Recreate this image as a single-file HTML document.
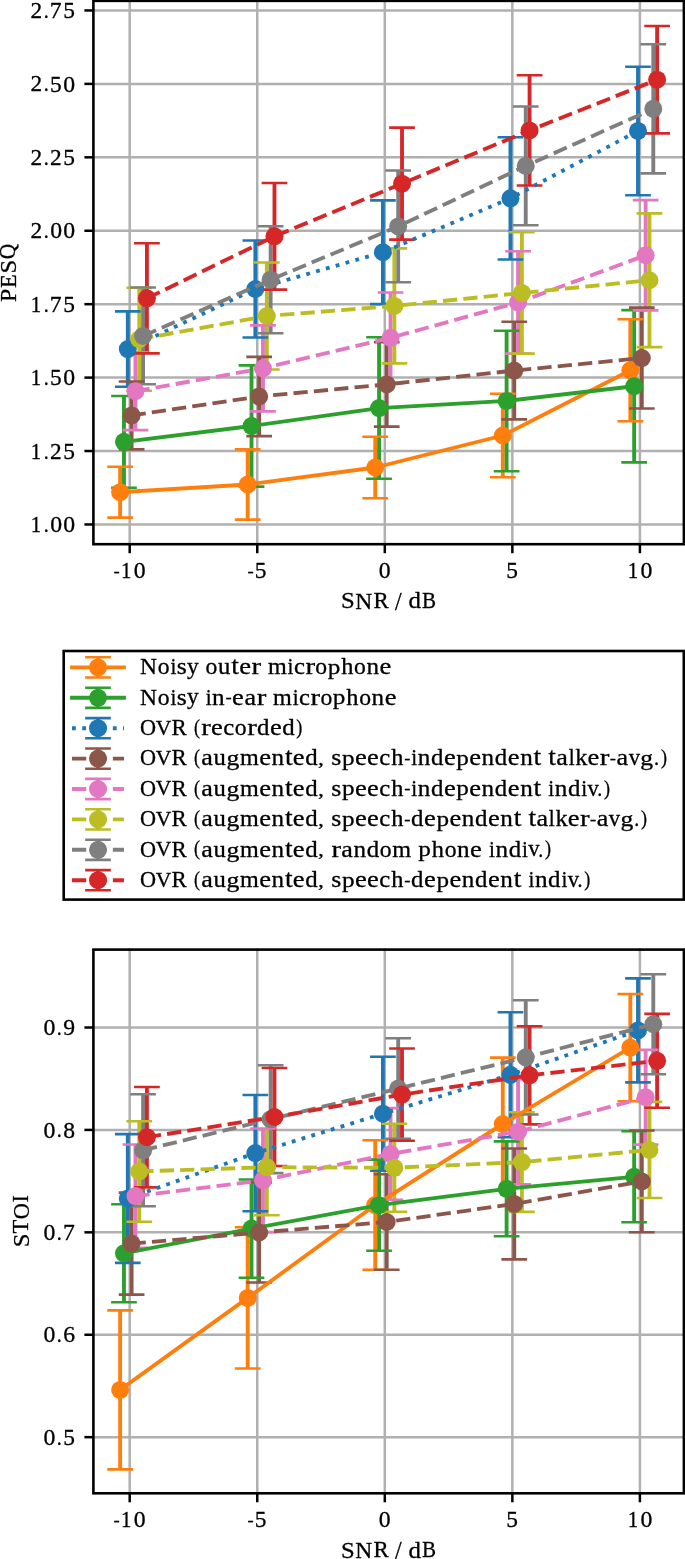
<!DOCTYPE html>
<html><head><meta charset="utf-8"><style>
html,body{margin:0;padding:0;background:#fff;}
body{width:685px;height:1559px;overflow:hidden;font-family:"Liberation Serif",serif;}
svg{display:block;will-change:transform;}
</style></head><body>
<svg width="685" height="1559" viewBox="0 0 685 1559">
<rect width="685" height="1559" fill="#fff"/>
<g stroke="#b0b0b0" stroke-width="2.5" stroke-linecap="square">
<line x1="129.7" y1="0.85" x2="129.7" y2="544.2"/>
<line x1="257.25" y1="0.85" x2="257.25" y2="544.2"/>
<line x1="384.8" y1="0.85" x2="384.8" y2="544.2"/>
<line x1="512.35" y1="0.85" x2="512.35" y2="544.2"/>
<line x1="639.9" y1="0.85" x2="639.9" y2="544.2"/>
<line x1="93.4" y1="524.45" x2="683.9" y2="524.45"/>
<line x1="93.4" y1="451.02" x2="683.9" y2="451.02"/>
<line x1="93.4" y1="377.6" x2="683.9" y2="377.6"/>
<line x1="93.4" y1="304.17" x2="683.9" y2="304.17"/>
<line x1="93.4" y1="230.74" x2="683.9" y2="230.74"/>
<line x1="93.4" y1="157.31" x2="683.9" y2="157.31"/>
<line x1="93.4" y1="83.89" x2="683.9" y2="83.89"/>
<line x1="93.4" y1="10.46" x2="683.9" y2="10.46"/>
</g>
<path d="M120.13 466.8V517.6M247.68 449.4V519.6M375.23 436.7V498.3M502.78 393.8V477.2M630.33 319.3V421.3" stroke="#ff7f0e" stroke-width="3.855" fill="none"/>
<path d="M123.96 396V487.7M251.51 365.4V486.6M379.06 337.3V478.8M506.61 330.7V471.2M634.16 310.1V462.4" stroke="#2ca02c" stroke-width="3.855" fill="none"/>
<path d="M127.79 311.4V386.8M255.34 240.5V337.5M382.89 200.4V304.1M510.44 137.2V259.5M637.99 66.7V195.2" stroke="#1f77b4" stroke-width="3.855" fill="none"/>
<path d="M131.61 381.5V449.4M259.16 356.9V436.1M386.71 342.2V426.6M514.26 321.8V419.4M641.81 307.6V408.5" stroke="#8c564b" stroke-width="3.855" fill="none"/>
<path d="M135.44 352.3V430.1M262.99 325.35V411.35M390.54 292.5V383.1M518.09 251.3V353.6M645.64 200.1V310.4" stroke="#e377c2" stroke-width="3.855" fill="none"/>
<path d="M139.27 287.7V390.7M266.82 262.5V369.5M394.37 248.4V363.4M521.92 232.3V353.6M649.47 213.4V347.1" stroke="#bcbd22" stroke-width="3.855" fill="none"/>
<path d="M143.09 287.5V384.3M270.64 226.2V333.2M398.19 170.5V282.3M525.74 106.5V225.3M653.29 44.2V173.4" stroke="#7f7f7f" stroke-width="3.855" fill="none"/>
<path d="M146.92 243.3V353.4M274.47 183V289.6M402.02 127.65V239.65M529.57 75.3V185.5M657.12 26V133.4" stroke="#d62728" stroke-width="3.855" fill="none"/>
<path d="M107.28 466.8H132.98M107.28 517.6H132.98M234.83 449.4H260.53M234.83 519.6H260.53M362.38 436.7H388.08M362.38 498.3H388.08M489.93 393.8H515.63M489.93 477.2H515.63M617.48 319.3H643.18M617.48 421.3H643.18" stroke="#ff7f0e" stroke-width="2.57" fill="none"/>
<path d="M111.11 396H136.81M111.11 487.7H136.81M238.66 365.4H264.36M238.66 486.6H264.36M366.21 337.3H391.91M366.21 478.8H391.91M493.76 330.7H519.46M493.76 471.2H519.46M621.31 310.1H647.01M621.31 462.4H647.01" stroke="#2ca02c" stroke-width="2.57" fill="none"/>
<path d="M114.94 311.4H140.64M114.94 386.8H140.64M242.49 240.5H268.19M242.49 337.5H268.19M370.04 200.4H395.74M370.04 304.1H395.74M497.59 137.2H523.29M497.59 259.5H523.29M625.14 66.7H650.84M625.14 195.2H650.84" stroke="#1f77b4" stroke-width="2.57" fill="none"/>
<path d="M118.76 381.5H144.46M118.76 449.4H144.46M246.31 356.9H272.01M246.31 436.1H272.01M373.86 342.2H399.56M373.86 426.6H399.56M501.41 321.8H527.11M501.41 419.4H527.11M628.96 307.6H654.66M628.96 408.5H654.66" stroke="#8c564b" stroke-width="2.57" fill="none"/>
<path d="M122.59 352.3H148.29M122.59 430.1H148.29M250.14 325.35H275.84M250.14 411.35H275.84M377.69 292.5H403.39M377.69 383.1H403.39M505.24 251.3H530.94M505.24 353.6H530.94M632.79 200.1H658.49M632.79 310.4H658.49" stroke="#e377c2" stroke-width="2.57" fill="none"/>
<path d="M126.42 287.7H152.12M126.42 390.7H152.12M253.97 262.5H279.67M253.97 369.5H279.67M381.52 248.4H407.22M381.52 363.4H407.22M509.07 232.3H534.77M509.07 353.6H534.77M636.62 213.4H662.32M636.62 347.1H662.32" stroke="#bcbd22" stroke-width="2.57" fill="none"/>
<path d="M130.24 287.5H155.94M130.24 384.3H155.94M257.79 226.2H283.49M257.79 333.2H283.49M385.34 170.5H411.04M385.34 282.3H411.04M512.89 106.5H538.59M512.89 225.3H538.59M640.44 44.2H666.14M640.44 173.4H666.14" stroke="#7f7f7f" stroke-width="2.57" fill="none"/>
<path d="M134.07 243.3H159.77M134.07 353.4H159.77M261.62 183H287.32M261.62 289.6H287.32M389.17 127.65H414.87M389.17 239.65H414.87M516.72 75.3H542.42M516.72 185.5H542.42M644.27 26H669.97M644.27 133.4H669.97" stroke="#d62728" stroke-width="2.57" fill="none"/>
<polyline points="120.13,492.2 247.68,484.5 375.23,467.5 502.78,435.5 630.33,370.3" fill="none" stroke="#ff7f0e" stroke-width="3.855" stroke-linejoin="round" stroke-linecap="square"/>
<g fill="#ff7f0e"><circle cx="120.13" cy="492.2" r="9.0"/><circle cx="247.68" cy="484.5" r="9.0"/><circle cx="375.23" cy="467.5" r="9.0"/><circle cx="502.78" cy="435.5" r="9.0"/><circle cx="630.33" cy="370.3" r="9.0"/></g>
<polyline points="123.96,441.85 251.51,426 379.06,408.05 506.61,400.95 634.16,386.25" fill="none" stroke="#2ca02c" stroke-width="3.855" stroke-linejoin="round" stroke-linecap="square"/>
<g fill="#2ca02c"><circle cx="123.96" cy="441.85" r="9.0"/><circle cx="251.51" cy="426" r="9.0"/><circle cx="379.06" cy="408.05" r="9.0"/><circle cx="506.61" cy="400.95" r="9.0"/><circle cx="634.16" cy="386.25" r="9.0"/></g>
<polyline points="127.79,349.1 255.34,289 382.89,252.25 510.44,198.35 637.99,130.95" fill="none" stroke="#1f77b4" stroke-width="3.855" stroke-linejoin="round" stroke-linecap="butt" stroke-dasharray="3.85 6.36"/>
<g fill="#1f77b4"><circle cx="127.79" cy="349.1" r="9.0"/><circle cx="255.34" cy="289" r="9.0"/><circle cx="382.89" cy="252.25" r="9.0"/><circle cx="510.44" cy="198.35" r="9.0"/><circle cx="637.99" cy="130.95" r="9.0"/></g>
<polyline points="131.61,415.45 259.16,396.5 386.71,384.4 514.26,370.6 641.81,358.05" fill="none" stroke="#8c564b" stroke-width="3.855" stroke-linejoin="round" stroke-linecap="butt" stroke-dasharray="14.26 6.17"/>
<g fill="#8c564b"><circle cx="131.61" cy="415.45" r="9.0"/><circle cx="259.16" cy="396.5" r="9.0"/><circle cx="386.71" cy="384.4" r="9.0"/><circle cx="514.26" cy="370.6" r="9.0"/><circle cx="641.81" cy="358.05" r="9.0"/></g>
<polyline points="135.44,391.2 262.99,368.35 390.54,337.8 518.09,302.45 645.64,255.25" fill="none" stroke="#e377c2" stroke-width="3.855" stroke-linejoin="round" stroke-linecap="butt" stroke-dasharray="14.26 6.17"/>
<g fill="#e377c2"><circle cx="135.44" cy="391.2" r="9.0"/><circle cx="262.99" cy="368.35" r="9.0"/><circle cx="390.54" cy="337.8" r="9.0"/><circle cx="518.09" cy="302.45" r="9.0"/><circle cx="645.64" cy="255.25" r="9.0"/></g>
<polyline points="139.27,339.2 266.82,316 394.37,305.9 521.92,292.95 649.47,280.25" fill="none" stroke="#bcbd22" stroke-width="3.855" stroke-linejoin="round" stroke-linecap="butt" stroke-dasharray="14.26 6.17"/>
<g fill="#bcbd22"><circle cx="139.27" cy="339.2" r="9.0"/><circle cx="266.82" cy="316" r="9.0"/><circle cx="394.37" cy="305.9" r="9.0"/><circle cx="521.92" cy="292.95" r="9.0"/><circle cx="649.47" cy="280.25" r="9.0"/></g>
<polyline points="143.09,335.9 270.64,279.7 398.19,226.4 525.74,165.9 653.29,108.8" fill="none" stroke="#7f7f7f" stroke-width="3.855" stroke-linejoin="round" stroke-linecap="butt" stroke-dasharray="14.26 6.17"/>
<g fill="#7f7f7f"><circle cx="143.09" cy="335.9" r="9.0"/><circle cx="270.64" cy="279.7" r="9.0"/><circle cx="398.19" cy="226.4" r="9.0"/><circle cx="525.74" cy="165.9" r="9.0"/><circle cx="653.29" cy="108.8" r="9.0"/></g>
<polyline points="146.92,298.35 274.47,236.3 402.02,183.65 529.57,130.4 657.12,79.7" fill="none" stroke="#d62728" stroke-width="3.855" stroke-linejoin="round" stroke-linecap="butt" stroke-dasharray="14.26 6.17"/>
<g fill="#d62728"><circle cx="146.92" cy="298.35" r="9.0"/><circle cx="274.47" cy="236.3" r="9.0"/><circle cx="402.02" cy="183.65" r="9.0"/><circle cx="529.57" cy="130.4" r="9.0"/><circle cx="657.12" cy="79.7" r="9.0"/></g>
<rect x="93.4" y="0.85" width="590.5" height="543.35" fill="none" stroke="#000" stroke-width="2.6"/>
<g stroke="#000" stroke-width="2.5">
<line x1="129.7" y1="544.2" x2="129.7" y2="553.2"/>
<line x1="257.25" y1="544.2" x2="257.25" y2="553.2"/>
<line x1="384.8" y1="544.2" x2="384.8" y2="553.2"/>
<line x1="512.35" y1="544.2" x2="512.35" y2="553.2"/>
<line x1="639.9" y1="544.2" x2="639.9" y2="553.2"/>
<line x1="84.41" y1="524.45" x2="93.4" y2="524.45"/>
<line x1="84.41" y1="451.02" x2="93.4" y2="451.02"/>
<line x1="84.41" y1="377.6" x2="93.4" y2="377.6"/>
<line x1="84.41" y1="304.17" x2="93.4" y2="304.17"/>
<line x1="84.41" y1="230.74" x2="93.4" y2="230.74"/>
<line x1="84.41" y1="157.31" x2="93.4" y2="157.31"/>
<line x1="84.41" y1="83.89" x2="93.4" y2="83.89"/>
<line x1="84.41" y1="10.46" x2="93.4" y2="10.46"/>
</g>
<g font-family="Liberation Serif, serif" font-size="100" stroke="#000" stroke-linejoin="round" fill="#000">
<text transform="matrix(0.1862 0 0 0.1694 113.52 576.68)" stroke-width="1.69">-</text><text transform="matrix(0.2087 0 0 0.2265 120.92 578.05)" stroke-width="1.38">1</text><text transform="matrix(0.2372 0 0 0.2259 133.77 578.12)" stroke-width="1.30">0</text>
<text transform="matrix(0.1862 0 0 0.1694 247.60 576.68)" stroke-width="1.69">-</text><text transform="matrix(0.2344 0 0 0.2253 254.72 578.12)" stroke-width="1.31">5</text>
<text transform="matrix(0.2372 0 0 0.2259 378.86 578.12)" stroke-width="1.30">0</text>
<text transform="matrix(0.2344 0 0 0.2253 506.35 578.12)" stroke-width="1.31">5</text>
<text transform="matrix(0.2087 0 0 0.2265 627.65 578.05)" stroke-width="1.38">1</text><text transform="matrix(0.2372 0 0 0.2259 640.50 578.12)" stroke-width="1.30">0</text>
<text transform="matrix(0.2087 0 0 0.2265 30.77 532.00)" stroke-width="1.38">1</text><text transform="matrix(0.2005 0 0 0.2013 43.78 532.01)" stroke-width="1.49">.</text><text transform="matrix(0.2372 0 0 0.2259 50.15 532.07)" stroke-width="1.30">0</text><text transform="matrix(0.2372 0 0 0.2259 63.23 532.07)" stroke-width="1.30">0</text>
<text transform="matrix(0.2087 0 0 0.2265 30.77 458.57)" stroke-width="1.38">1</text><text transform="matrix(0.2005 0 0 0.2013 43.78 458.58)" stroke-width="1.49">.</text><text transform="matrix(0.2336 0 0 0.2258 50.07 458.57)" stroke-width="1.31">2</text><text transform="matrix(0.2344 0 0 0.2253 63.16 458.64)" stroke-width="1.31">5</text>
<text transform="matrix(0.2087 0 0 0.2265 30.77 385.15)" stroke-width="1.38">1</text><text transform="matrix(0.2005 0 0 0.2013 43.78 385.15)" stroke-width="1.49">.</text><text transform="matrix(0.2344 0 0 0.2253 50.08 385.22)" stroke-width="1.31">5</text><text transform="matrix(0.2372 0 0 0.2259 63.23 385.22)" stroke-width="1.30">0</text>
<text transform="matrix(0.2087 0 0 0.2265 30.77 311.72)" stroke-width="1.38">1</text><text transform="matrix(0.2005 0 0 0.2013 43.78 311.72)" stroke-width="1.49">.</text><text transform="matrix(0.2360 0 0 0.2242 49.87 311.72)" stroke-width="1.30">7</text><text transform="matrix(0.2344 0 0 0.2253 63.16 311.79)" stroke-width="1.31">5</text>
<text transform="matrix(0.2336 0 0 0.2258 30.46 238.29)" stroke-width="1.31">2</text><text transform="matrix(0.2005 0 0 0.2013 43.78 238.30)" stroke-width="1.49">.</text><text transform="matrix(0.2372 0 0 0.2259 50.15 238.36)" stroke-width="1.30">0</text><text transform="matrix(0.2372 0 0 0.2259 63.23 238.36)" stroke-width="1.30">0</text>
<text transform="matrix(0.2336 0 0 0.2258 30.46 164.86)" stroke-width="1.31">2</text><text transform="matrix(0.2005 0 0 0.2013 43.78 164.87)" stroke-width="1.49">.</text><text transform="matrix(0.2336 0 0 0.2258 50.07 164.86)" stroke-width="1.31">2</text><text transform="matrix(0.2344 0 0 0.2253 63.16 164.93)" stroke-width="1.31">5</text>
<text transform="matrix(0.2336 0 0 0.2258 30.46 91.44)" stroke-width="1.31">2</text><text transform="matrix(0.2005 0 0 0.2013 43.78 91.44)" stroke-width="1.49">.</text><text transform="matrix(0.2344 0 0 0.2253 50.08 91.51)" stroke-width="1.31">5</text><text transform="matrix(0.2372 0 0 0.2259 63.23 91.51)" stroke-width="1.30">0</text>
<text transform="matrix(0.2336 0 0 0.2258 30.46 18.01)" stroke-width="1.31">2</text><text transform="matrix(0.2005 0 0 0.2013 43.78 18.01)" stroke-width="1.49">.</text><text transform="matrix(0.2360 0 0 0.2242 49.87 18.01)" stroke-width="1.30">7</text><text transform="matrix(0.2344 0 0 0.2253 63.16 18.08)" stroke-width="1.31">5</text>
<text transform="matrix(0.2469 0 0 0.2269 340.99 608.42)" stroke-width="1.27">S</text><text transform="matrix(0.2353 0 0 0.2287 355.32 608.64)" stroke-width="1.29">N</text><text transform="matrix(0.2282 0 0 0.2242 373.45 608.35)" stroke-width="1.33">R</text><text transform="matrix(0.2384 0 0 0.2480 394.98 610.01)" stroke-width="1.23">/</text><text transform="matrix(0.2486 0 0 0.2218 408.56 608.42)" stroke-width="1.28">d</text><text transform="matrix(0.2106 0 0 0.2232 422.11 608.28)" stroke-width="1.38">B</text>
<g transform="translate(15.65 272.7) rotate(-90)"><text transform="matrix(0.2393 0 0 0.2242 -29.28 -0.15)" stroke-width="1.29">P</text><text transform="matrix(0.2240 0 0 0.2242 -15.41 -0.15)" stroke-width="1.34">E</text><text transform="matrix(0.2469 0 0 0.2269 -0.82 -0.08)" stroke-width="1.27">S</text><text transform="matrix(0.2146 0 0 0.2213 13.45 -0.45)" stroke-width="1.38">Q</text></g>
</g>
<g stroke="#b0b0b0" stroke-width="2.5" stroke-linecap="square">
<line x1="129.7" y1="949.6" x2="129.7" y2="1493.3"/>
<line x1="257.25" y1="949.6" x2="257.25" y2="1493.3"/>
<line x1="384.8" y1="949.6" x2="384.8" y2="1493.3"/>
<line x1="512.35" y1="949.6" x2="512.35" y2="1493.3"/>
<line x1="639.9" y1="949.6" x2="639.9" y2="1493.3"/>
<line x1="93.4" y1="1437.15" x2="683.9" y2="1437.15"/>
<line x1="93.4" y1="1334.74" x2="683.9" y2="1334.74"/>
<line x1="93.4" y1="1232.33" x2="683.9" y2="1232.33"/>
<line x1="93.4" y1="1129.92" x2="683.9" y2="1129.92"/>
<line x1="93.4" y1="1027.51" x2="683.9" y2="1027.51"/>
</g>
<path d="M120.13 1310.4V1469.4M247.68 1227.3V1368.5M375.23 1140.3V1269.8M502.78 1057.6V1190.4M630.33 994V1101.2" stroke="#ff7f0e" stroke-width="3.855" fill="none"/>
<path d="M123.96 1204.3V1302.3M251.51 1179.5V1277.7M379.06 1159.6V1250.8M506.61 1141.4V1236.2M634.16 1131.3V1222.2" stroke="#2ca02c" stroke-width="3.855" fill="none"/>
<path d="M127.79 1134.1V1262.9M255.34 1095V1211.2M382.89 1056.7V1170.8M510.44 1012.3V1137.3M637.99 978.4V1082.4" stroke="#1f77b4" stroke-width="3.855" fill="none"/>
<path d="M131.61 1192.6V1294.6M259.16 1182.5V1282.5M386.71 1174.2V1269.8M514.26 1148.5V1259.4M641.81 1130.5V1232.3" stroke="#8c564b" stroke-width="3.855" fill="none"/>
<path d="M135.44 1144.5V1247.7M262.99 1128.5V1232.1M390.54 1108.1V1199.7M518.09 1079.1V1184.3M645.64 1049.9V1144.6" stroke="#e377c2" stroke-width="3.855" fill="none"/>
<path d="M139.27 1121.2V1221.7M266.82 1119.2V1215.2M394.37 1123.8V1211.7M521.92 1112.3V1211.9M649.47 1101.9V1198" stroke="#bcbd22" stroke-width="3.855" fill="none"/>
<path d="M143.09 1094.3V1206.3M270.64 1065.2V1173.1M398.19 1038.3V1138.8M525.74 1000.2V1114.5M653.29 974.3V1074.2" stroke="#7f7f7f" stroke-width="3.855" fill="none"/>
<path d="M146.92 1087V1187.4M274.47 1068V1166M402.02 1048.5V1140.7M529.57 1026.3V1124.4M657.12 1013.9V1107.8" stroke="#d62728" stroke-width="3.855" fill="none"/>
<path d="M107.28 1310.4H132.98M107.28 1469.4H132.98M234.83 1227.3H260.53M234.83 1368.5H260.53M362.38 1140.3H388.08M362.38 1269.8H388.08M489.93 1057.6H515.63M489.93 1190.4H515.63M617.48 994H643.18M617.48 1101.2H643.18" stroke="#ff7f0e" stroke-width="2.57" fill="none"/>
<path d="M111.11 1204.3H136.81M111.11 1302.3H136.81M238.66 1179.5H264.36M238.66 1277.7H264.36M366.21 1159.6H391.91M366.21 1250.8H391.91M493.76 1141.4H519.46M493.76 1236.2H519.46M621.31 1131.3H647.01M621.31 1222.2H647.01" stroke="#2ca02c" stroke-width="2.57" fill="none"/>
<path d="M114.94 1134.1H140.64M114.94 1262.9H140.64M242.49 1095H268.19M242.49 1211.2H268.19M370.04 1056.7H395.74M370.04 1170.8H395.74M497.59 1012.3H523.29M497.59 1137.3H523.29M625.14 978.4H650.84M625.14 1082.4H650.84" stroke="#1f77b4" stroke-width="2.57" fill="none"/>
<path d="M118.76 1192.6H144.46M118.76 1294.6H144.46M246.31 1182.5H272.01M246.31 1282.5H272.01M373.86 1174.2H399.56M373.86 1269.8H399.56M501.41 1148.5H527.11M501.41 1259.4H527.11M628.96 1130.5H654.66M628.96 1232.3H654.66" stroke="#8c564b" stroke-width="2.57" fill="none"/>
<path d="M122.59 1144.5H148.29M122.59 1247.7H148.29M250.14 1128.5H275.84M250.14 1232.1H275.84M377.69 1108.1H403.39M377.69 1199.7H403.39M505.24 1079.1H530.94M505.24 1184.3H530.94M632.79 1049.9H658.49M632.79 1144.6H658.49" stroke="#e377c2" stroke-width="2.57" fill="none"/>
<path d="M126.42 1121.2H152.12M126.42 1221.7H152.12M253.97 1119.2H279.67M253.97 1215.2H279.67M381.52 1123.8H407.22M381.52 1211.7H407.22M509.07 1112.3H534.77M509.07 1211.9H534.77M636.62 1101.9H662.32M636.62 1198H662.32" stroke="#bcbd22" stroke-width="2.57" fill="none"/>
<path d="M130.24 1094.3H155.94M130.24 1206.3H155.94M257.79 1065.2H283.49M257.79 1173.1H283.49M385.34 1038.3H411.04M385.34 1138.8H411.04M512.89 1000.2H538.59M512.89 1114.5H538.59M640.44 974.3H666.14M640.44 1074.2H666.14" stroke="#7f7f7f" stroke-width="2.57" fill="none"/>
<path d="M134.07 1087H159.77M134.07 1187.4H159.77M261.62 1068H287.32M261.62 1166H287.32M389.17 1048.5H414.87M389.17 1140.7H414.87M516.72 1026.3H542.42M516.72 1124.4H542.42M644.27 1013.9H669.97M644.27 1107.8H669.97" stroke="#d62728" stroke-width="2.57" fill="none"/>
<polyline points="120.13,1389.9 247.68,1297.9 375.23,1205.05 502.78,1124 630.33,1047.6" fill="none" stroke="#ff7f0e" stroke-width="3.855" stroke-linejoin="round" stroke-linecap="square"/>
<g fill="#ff7f0e"><circle cx="120.13" cy="1389.9" r="9.0"/><circle cx="247.68" cy="1297.9" r="9.0"/><circle cx="375.23" cy="1205.05" r="9.0"/><circle cx="502.78" cy="1124" r="9.0"/><circle cx="630.33" cy="1047.6" r="9.0"/></g>
<polyline points="123.96,1253.3 251.51,1228.6 379.06,1205.2 506.61,1188.8 634.16,1176.75" fill="none" stroke="#2ca02c" stroke-width="3.855" stroke-linejoin="round" stroke-linecap="square"/>
<g fill="#2ca02c"><circle cx="123.96" cy="1253.3" r="9.0"/><circle cx="251.51" cy="1228.6" r="9.0"/><circle cx="379.06" cy="1205.2" r="9.0"/><circle cx="506.61" cy="1188.8" r="9.0"/><circle cx="634.16" cy="1176.75" r="9.0"/></g>
<polyline points="127.79,1198.5 255.34,1153.1 382.89,1113.75 510.44,1074.8 637.99,1030.4" fill="none" stroke="#1f77b4" stroke-width="3.855" stroke-linejoin="round" stroke-linecap="butt" stroke-dasharray="3.85 6.36"/>
<g fill="#1f77b4"><circle cx="127.79" cy="1198.5" r="9.0"/><circle cx="255.34" cy="1153.1" r="9.0"/><circle cx="382.89" cy="1113.75" r="9.0"/><circle cx="510.44" cy="1074.8" r="9.0"/><circle cx="637.99" cy="1030.4" r="9.0"/></g>
<polyline points="131.61,1243.6 259.16,1232.5 386.71,1222 514.26,1203.95 641.81,1181.4" fill="none" stroke="#8c564b" stroke-width="3.855" stroke-linejoin="round" stroke-linecap="butt" stroke-dasharray="14.26 6.17"/>
<g fill="#8c564b"><circle cx="131.61" cy="1243.6" r="9.0"/><circle cx="259.16" cy="1232.5" r="9.0"/><circle cx="386.71" cy="1222" r="9.0"/><circle cx="514.26" cy="1203.95" r="9.0"/><circle cx="641.81" cy="1181.4" r="9.0"/></g>
<polyline points="135.44,1196.1 262.99,1180.3 390.54,1153.9 518.09,1131.7 645.64,1097.25" fill="none" stroke="#e377c2" stroke-width="3.855" stroke-linejoin="round" stroke-linecap="butt" stroke-dasharray="14.26 6.17"/>
<g fill="#e377c2"><circle cx="135.44" cy="1196.1" r="9.0"/><circle cx="262.99" cy="1180.3" r="9.0"/><circle cx="390.54" cy="1153.9" r="9.0"/><circle cx="518.09" cy="1131.7" r="9.0"/><circle cx="645.64" cy="1097.25" r="9.0"/></g>
<polyline points="139.27,1171.45 266.82,1167.2 394.37,1167.75 521.92,1162.1 649.47,1149.95" fill="none" stroke="#bcbd22" stroke-width="3.855" stroke-linejoin="round" stroke-linecap="butt" stroke-dasharray="14.26 6.17"/>
<g fill="#bcbd22"><circle cx="139.27" cy="1171.45" r="9.0"/><circle cx="266.82" cy="1167.2" r="9.0"/><circle cx="394.37" cy="1167.75" r="9.0"/><circle cx="521.92" cy="1162.1" r="9.0"/><circle cx="649.47" cy="1149.95" r="9.0"/></g>
<polyline points="143.09,1150.3 270.64,1119.15 398.19,1088.55 525.74,1057.35 653.29,1024.25" fill="none" stroke="#7f7f7f" stroke-width="3.855" stroke-linejoin="round" stroke-linecap="butt" stroke-dasharray="14.26 6.17"/>
<g fill="#7f7f7f"><circle cx="143.09" cy="1150.3" r="9.0"/><circle cx="270.64" cy="1119.15" r="9.0"/><circle cx="398.19" cy="1088.55" r="9.0"/><circle cx="525.74" cy="1057.35" r="9.0"/><circle cx="653.29" cy="1024.25" r="9.0"/></g>
<polyline points="146.92,1137.2 274.47,1117 402.02,1094.6 529.57,1075.35 657.12,1060.85" fill="none" stroke="#d62728" stroke-width="3.855" stroke-linejoin="round" stroke-linecap="butt" stroke-dasharray="14.26 6.17"/>
<g fill="#d62728"><circle cx="146.92" cy="1137.2" r="9.0"/><circle cx="274.47" cy="1117" r="9.0"/><circle cx="402.02" cy="1094.6" r="9.0"/><circle cx="529.57" cy="1075.35" r="9.0"/><circle cx="657.12" cy="1060.85" r="9.0"/></g>
<rect x="93.4" y="949.6" width="590.5" height="543.7" fill="none" stroke="#000" stroke-width="2.6"/>
<g stroke="#000" stroke-width="2.5">
<line x1="129.7" y1="1493.3" x2="129.7" y2="1502.29"/>
<line x1="257.25" y1="1493.3" x2="257.25" y2="1502.29"/>
<line x1="384.8" y1="1493.3" x2="384.8" y2="1502.29"/>
<line x1="512.35" y1="1493.3" x2="512.35" y2="1502.29"/>
<line x1="639.9" y1="1493.3" x2="639.9" y2="1502.29"/>
<line x1="84.41" y1="1437.15" x2="93.4" y2="1437.15"/>
<line x1="84.41" y1="1334.74" x2="93.4" y2="1334.74"/>
<line x1="84.41" y1="1232.33" x2="93.4" y2="1232.33"/>
<line x1="84.41" y1="1129.92" x2="93.4" y2="1129.92"/>
<line x1="84.41" y1="1027.51" x2="93.4" y2="1027.51"/>
</g>
<g font-family="Liberation Serif, serif" font-size="100" stroke="#000" stroke-linejoin="round" fill="#000">
<text transform="matrix(0.1862 0 0 0.1694 113.52 1525.78)" stroke-width="1.69">-</text><text transform="matrix(0.2087 0 0 0.2265 120.92 1527.15)" stroke-width="1.38">1</text><text transform="matrix(0.2372 0 0 0.2259 133.77 1527.22)" stroke-width="1.30">0</text>
<text transform="matrix(0.1862 0 0 0.1694 247.60 1525.78)" stroke-width="1.69">-</text><text transform="matrix(0.2344 0 0 0.2253 254.72 1527.22)" stroke-width="1.31">5</text>
<text transform="matrix(0.2372 0 0 0.2259 378.86 1527.22)" stroke-width="1.30">0</text>
<text transform="matrix(0.2344 0 0 0.2253 506.35 1527.22)" stroke-width="1.31">5</text>
<text transform="matrix(0.2087 0 0 0.2265 627.65 1527.15)" stroke-width="1.38">1</text><text transform="matrix(0.2372 0 0 0.2259 640.50 1527.22)" stroke-width="1.30">0</text>
<text transform="matrix(0.2372 0 0 0.2259 43.62 1444.77)" stroke-width="1.30">0</text><text transform="matrix(0.2005 0 0 0.2013 56.86 1444.71)" stroke-width="1.49">.</text><text transform="matrix(0.2344 0 0 0.2253 63.16 1444.77)" stroke-width="1.31">5</text>
<text transform="matrix(0.2372 0 0 0.2259 43.62 1342.36)" stroke-width="1.30">0</text><text transform="matrix(0.2005 0 0 0.2013 56.86 1342.30)" stroke-width="1.49">.</text><text transform="matrix(0.2365 0 0 0.2269 63.13 1342.36)" stroke-width="1.29">6</text>
<text transform="matrix(0.2372 0 0 0.2259 43.62 1239.95)" stroke-width="1.30">0</text><text transform="matrix(0.2005 0 0 0.2013 56.86 1239.89)" stroke-width="1.49">.</text><text transform="matrix(0.2360 0 0 0.2242 62.95 1239.88)" stroke-width="1.30">7</text>
<text transform="matrix(0.2372 0 0 0.2259 43.62 1137.54)" stroke-width="1.30">0</text><text transform="matrix(0.2005 0 0 0.2013 56.86 1137.48)" stroke-width="1.49">.</text><text transform="matrix(0.2363 0 0 0.2259 63.25 1137.54)" stroke-width="1.30">8</text>
<text transform="matrix(0.2372 0 0 0.2259 43.62 1035.13)" stroke-width="1.30">0</text><text transform="matrix(0.2005 0 0 0.2013 56.86 1035.07)" stroke-width="1.49">.</text><text transform="matrix(0.2366 0 0 0.2269 63.31 1035.13)" stroke-width="1.29">9</text>
<text transform="matrix(0.2469 0 0 0.2269 340.99 1557.52)" stroke-width="1.27">S</text><text transform="matrix(0.2353 0 0 0.2287 355.32 1557.74)" stroke-width="1.29">N</text><text transform="matrix(0.2282 0 0 0.2242 373.45 1557.45)" stroke-width="1.33">R</text><text transform="matrix(0.2384 0 0 0.2480 394.98 1559.11)" stroke-width="1.23">/</text><text transform="matrix(0.2486 0 0 0.2218 408.56 1557.52)" stroke-width="1.28">d</text><text transform="matrix(0.2106 0 0 0.2232 422.11 1557.38)" stroke-width="1.38">B</text>
<g transform="translate(28.6 1221.05) rotate(-90)"><text transform="matrix(0.2469 0 0 0.2269 -26.15 -0.08)" stroke-width="1.27">S</text><text transform="matrix(0.2257 0 0 0.2242 -12.35 -0.15)" stroke-width="1.33">T</text><text transform="matrix(0.2226 0 0 0.2269 1.80 -0.08)" stroke-width="1.33">O</text><text transform="matrix(0.2121 0 0 0.2242 18.77 -0.15)" stroke-width="1.38">I</text></g>
</g>
<rect x="63.7" y="651" width="620.1" height="248.6" fill="#fff" stroke="#000" stroke-width="2.6"/>
<path d="M98 657.3V677.5" stroke="#ff7f0e" stroke-width="3.855"/>
<path d="M85.15 657.3H110.85M85.15 677.5H110.85" stroke="#ff7f0e" stroke-width="2.57"/>
<line x1="72" y1="667.4" x2="124" y2="667.4" stroke="#ff7f0e" stroke-width="3.855" stroke-linecap="square"/>
<circle cx="98" cy="667.4" r="9.0" fill="#ff7f0e"/>
<path d="M98 687.7V707.9" stroke="#2ca02c" stroke-width="3.855"/>
<path d="M85.15 687.7H110.85M85.15 707.9H110.85" stroke="#2ca02c" stroke-width="2.57"/>
<line x1="72" y1="697.8" x2="124" y2="697.8" stroke="#2ca02c" stroke-width="3.855" stroke-linecap="square"/>
<circle cx="98" cy="697.8" r="9.0" fill="#2ca02c"/>
<path d="M98 718.1V738.3" stroke="#1f77b4" stroke-width="3.855"/>
<path d="M85.15 718.1H110.85M85.15 738.3H110.85" stroke="#1f77b4" stroke-width="2.57"/>
<line x1="72" y1="728.2" x2="124" y2="728.2" stroke="#1f77b4" stroke-width="3.855" stroke-linecap="butt" stroke-dasharray="3.85 6.36"/>
<circle cx="98" cy="728.2" r="9.0" fill="#1f77b4"/>
<path d="M98 748.5V768.7" stroke="#8c564b" stroke-width="3.855"/>
<path d="M85.15 748.5H110.85M85.15 768.7H110.85" stroke="#8c564b" stroke-width="2.57"/>
<line x1="72" y1="758.6" x2="124" y2="758.6" stroke="#8c564b" stroke-width="3.855" stroke-linecap="butt" stroke-dasharray="14.26 6.17"/>
<circle cx="98" cy="758.6" r="9.0" fill="#8c564b"/>
<path d="M98 778.9V799.1" stroke="#e377c2" stroke-width="3.855"/>
<path d="M85.15 778.9H110.85M85.15 799.1H110.85" stroke="#e377c2" stroke-width="2.57"/>
<line x1="72" y1="789" x2="124" y2="789" stroke="#e377c2" stroke-width="3.855" stroke-linecap="butt" stroke-dasharray="14.26 6.17"/>
<circle cx="98" cy="789" r="9.0" fill="#e377c2"/>
<path d="M98 809.3V829.5" stroke="#bcbd22" stroke-width="3.855"/>
<path d="M85.15 809.3H110.85M85.15 829.5H110.85" stroke="#bcbd22" stroke-width="2.57"/>
<line x1="72" y1="819.4" x2="124" y2="819.4" stroke="#bcbd22" stroke-width="3.855" stroke-linecap="butt" stroke-dasharray="14.26 6.17"/>
<circle cx="98" cy="819.4" r="9.0" fill="#bcbd22"/>
<path d="M98 839.7V859.9" stroke="#7f7f7f" stroke-width="3.855"/>
<path d="M85.15 839.7H110.85M85.15 859.9H110.85" stroke="#7f7f7f" stroke-width="2.57"/>
<line x1="72" y1="849.8" x2="124" y2="849.8" stroke="#7f7f7f" stroke-width="3.855" stroke-linecap="butt" stroke-dasharray="14.26 6.17"/>
<circle cx="98" cy="849.8" r="9.0" fill="#7f7f7f"/>
<path d="M98 870.1V890.3" stroke="#d62728" stroke-width="3.855"/>
<path d="M85.15 870.1H110.85M85.15 890.3H110.85" stroke="#d62728" stroke-width="2.57"/>
<line x1="72" y1="880.2" x2="124" y2="880.2" stroke="#d62728" stroke-width="3.855" stroke-linecap="butt" stroke-dasharray="14.26 6.17"/>
<circle cx="98" cy="880.2" r="9.0" fill="#d62728"/>
<g font-family="Liberation Serif, serif" font-size="100" stroke="#000" stroke-linejoin="round" fill="#000">
<text transform="matrix(0.2353 0 0 0.2287 140.08 674.44)" stroke-width="1.29">N</text><text transform="matrix(0.2363 0 0 0.2276 157.85 674.22)" stroke-width="1.29">o</text><text transform="matrix(0.2127 0 0 0.2239 170.40 674.15)" stroke-width="1.37">i</text><text transform="matrix(0.2576 0 0 0.2276 176.77 674.22)" stroke-width="1.24">s</text><text transform="matrix(0.2337 0 0 0.2213 186.88 673.94)" stroke-width="1.32">y</text><text transform="matrix(0.2363 0 0 0.2276 205.49 674.22)" stroke-width="1.29">o</text><text transform="matrix(0.2474 0 0 0.2274 217.96 674.22)" stroke-width="1.26">u</text><text transform="matrix(0.2748 0 0 0.2439 231.29 674.20)" stroke-width="1.16">t</text><text transform="matrix(0.2652 0 0 0.2276 239.22 674.22)" stroke-width="1.22">e</text><text transform="matrix(0.2887 0 0 0.2262 251.55 674.15)" stroke-width="1.17">r</text><text transform="matrix(0.2413 0 0 0.2262 267.98 674.15)" stroke-width="1.28">m</text><text transform="matrix(0.2127 0 0 0.2239 287.53 674.15)" stroke-width="1.37">i</text><text transform="matrix(0.2465 0 0 0.2276 293.89 674.22)" stroke-width="1.27">c</text><text transform="matrix(0.2887 0 0 0.2262 305.48 674.15)" stroke-width="1.17">r</text><text transform="matrix(0.2363 0 0 0.2276 315.26 674.22)" stroke-width="1.29">o</text><text transform="matrix(0.2524 0 0 0.2183 327.69 673.78)" stroke-width="1.27">p</text><text transform="matrix(0.2436 0 0 0.2207 341.17 674.15)" stroke-width="1.29">h</text><text transform="matrix(0.2363 0 0 0.2276 354.02 674.22)" stroke-width="1.29">o</text><text transform="matrix(0.2516 0 0 0.2262 366.44 674.15)" stroke-width="1.26">n</text><text transform="matrix(0.2652 0 0 0.2276 379.49 674.22)" stroke-width="1.22">e</text>
<text transform="matrix(0.2353 0 0 0.2287 140.08 704.84)" stroke-width="1.29">N</text><text transform="matrix(0.2363 0 0 0.2276 157.85 704.62)" stroke-width="1.29">o</text><text transform="matrix(0.2127 0 0 0.2239 170.40 704.55)" stroke-width="1.37">i</text><text transform="matrix(0.2576 0 0 0.2276 176.77 704.62)" stroke-width="1.24">s</text><text transform="matrix(0.2337 0 0 0.2213 186.88 704.34)" stroke-width="1.32">y</text><text transform="matrix(0.2127 0 0 0.2239 205.66 704.55)" stroke-width="1.37">i</text><text transform="matrix(0.2516 0 0 0.2262 212.10 704.55)" stroke-width="1.26">n</text><text transform="matrix(0.1862 0 0 0.1694 225.38 703.18)" stroke-width="1.69">-</text><text transform="matrix(0.2652 0 0 0.2276 232.10 704.62)" stroke-width="1.22">e</text><text transform="matrix(0.2619 0 0 0.2286 244.38 704.62)" stroke-width="1.22">a</text><text transform="matrix(0.2887 0 0 0.2262 256.69 704.55)" stroke-width="1.17">r</text><text transform="matrix(0.2413 0 0 0.2262 273.12 704.55)" stroke-width="1.28">m</text><text transform="matrix(0.2127 0 0 0.2239 292.67 704.55)" stroke-width="1.37">i</text><text transform="matrix(0.2465 0 0 0.2276 299.03 704.62)" stroke-width="1.27">c</text><text transform="matrix(0.2887 0 0 0.2262 310.62 704.55)" stroke-width="1.17">r</text><text transform="matrix(0.2363 0 0 0.2276 320.40 704.62)" stroke-width="1.29">o</text><text transform="matrix(0.2524 0 0 0.2183 332.83 704.18)" stroke-width="1.27">p</text><text transform="matrix(0.2436 0 0 0.2207 346.31 704.55)" stroke-width="1.29">h</text><text transform="matrix(0.2363 0 0 0.2276 359.16 704.62)" stroke-width="1.29">o</text><text transform="matrix(0.2516 0 0 0.2262 371.57 704.55)" stroke-width="1.26">n</text><text transform="matrix(0.2652 0 0 0.2276 384.63 704.62)" stroke-width="1.22">e</text>
<text transform="matrix(0.2226 0 0 0.2269 139.99 735.02)" stroke-width="1.33">O</text><text transform="matrix(0.2150 0 0 0.2191 155.79 734.62)" stroke-width="1.38">V</text><text transform="matrix(0.2282 0 0 0.2242 171.55 734.95)" stroke-width="1.33">R</text><text transform="matrix(0.1801 0 0 0.2042 193.92 733.80)" stroke-width="1.56">(</text><text transform="matrix(0.2887 0 0 0.2262 201.26 734.95)" stroke-width="1.17">r</text><text transform="matrix(0.2652 0 0 0.2276 210.91 735.02)" stroke-width="1.22">e</text><text transform="matrix(0.2465 0 0 0.2276 223.17 735.02)" stroke-width="1.27">c</text><text transform="matrix(0.2363 0 0 0.2276 234.72 735.02)" stroke-width="1.29">o</text><text transform="matrix(0.2887 0 0 0.2262 247.13 734.95)" stroke-width="1.17">r</text><text transform="matrix(0.2486 0 0 0.2218 256.91 735.02)" stroke-width="1.28">d</text><text transform="matrix(0.2652 0 0 0.2276 269.93 735.02)" stroke-width="1.22">e</text><text transform="matrix(0.2486 0 0 0.2218 282.23 735.02)" stroke-width="1.28">d</text><text transform="matrix(0.1805 0 0 0.2042 296.13 733.80)" stroke-width="1.56">)</text>
<text transform="matrix(0.2226 0 0 0.2269 139.99 765.42)" stroke-width="1.33">O</text><text transform="matrix(0.2150 0 0 0.2191 155.79 765.02)" stroke-width="1.38">V</text><text transform="matrix(0.2282 0 0 0.2242 171.55 765.35)" stroke-width="1.33">R</text><text transform="matrix(0.1801 0 0 0.2042 193.92 764.20)" stroke-width="1.56">(</text><text transform="matrix(0.2619 0 0 0.2286 201.20 765.42)" stroke-width="1.22">a</text><text transform="matrix(0.2474 0 0 0.2274 213.58 765.42)" stroke-width="1.26">u</text><text transform="matrix(0.2564 0 0 0.2088 226.51 765.41)" stroke-width="1.29">g</text><text transform="matrix(0.2413 0 0 0.2262 239.98 765.35)" stroke-width="1.28">m</text><text transform="matrix(0.2652 0 0 0.2276 259.21 765.42)" stroke-width="1.22">e</text><text transform="matrix(0.2516 0 0 0.2262 271.55 765.35)" stroke-width="1.26">n</text><text transform="matrix(0.2748 0 0 0.2439 284.95 765.40)" stroke-width="1.16">t</text><text transform="matrix(0.2652 0 0 0.2276 292.87 765.42)" stroke-width="1.22">e</text><text transform="matrix(0.2486 0 0 0.2218 305.17 765.42)" stroke-width="1.28">d</text><text transform="matrix(0.2352 0 0 0.1860 318.04 765.29)" stroke-width="1.42">,</text><text transform="matrix(0.2576 0 0 0.2276 331.36 765.42)" stroke-width="1.24">s</text><text transform="matrix(0.2524 0 0 0.2183 341.99 764.98)" stroke-width="1.27">p</text><text transform="matrix(0.2652 0 0 0.2276 354.95 765.42)" stroke-width="1.22">e</text><text transform="matrix(0.2652 0 0 0.2276 367.11 765.42)" stroke-width="1.22">e</text><text transform="matrix(0.2465 0 0 0.2276 379.37 765.42)" stroke-width="1.27">c</text><text transform="matrix(0.2436 0 0 0.2207 391.30 765.35)" stroke-width="1.29">h</text><text transform="matrix(0.1862 0 0 0.1694 404.24 763.98)" stroke-width="1.69">-</text><text transform="matrix(0.2127 0 0 0.2239 411.27 765.35)" stroke-width="1.37">i</text><text transform="matrix(0.2516 0 0 0.2262 417.71 765.35)" stroke-width="1.26">n</text><text transform="matrix(0.2486 0 0 0.2218 430.91 765.42)" stroke-width="1.28">d</text><text transform="matrix(0.2652 0 0 0.2276 443.92 765.42)" stroke-width="1.22">e</text><text transform="matrix(0.2524 0 0 0.2183 456.28 764.98)" stroke-width="1.27">p</text><text transform="matrix(0.2652 0 0 0.2276 469.24 765.42)" stroke-width="1.22">e</text><text transform="matrix(0.2516 0 0 0.2262 481.58 765.35)" stroke-width="1.26">n</text><text transform="matrix(0.2486 0 0 0.2218 494.77 765.42)" stroke-width="1.28">d</text><text transform="matrix(0.2652 0 0 0.2276 507.79 765.42)" stroke-width="1.22">e</text><text transform="matrix(0.2516 0 0 0.2262 520.13 765.35)" stroke-width="1.26">n</text><text transform="matrix(0.2748 0 0 0.2439 533.52 765.40)" stroke-width="1.16">t</text><text transform="matrix(0.2748 0 0 0.2439 548.31 765.40)" stroke-width="1.16">t</text><text transform="matrix(0.2619 0 0 0.2286 556.35 765.42)" stroke-width="1.22">a</text><text transform="matrix(0.2131 0 0 0.2207 568.67 765.35)" stroke-width="1.38">l</text><text transform="matrix(0.2433 0 0 0.2207 575.20 765.35)" stroke-width="1.29">k</text><text transform="matrix(0.2652 0 0 0.2276 587.51 765.42)" stroke-width="1.22">e</text><text transform="matrix(0.2887 0 0 0.2262 599.85 765.35)" stroke-width="1.17">r</text><text transform="matrix(0.1862 0 0 0.1694 609.72 763.98)" stroke-width="1.69">-</text><text transform="matrix(0.2619 0 0 0.2286 616.56 765.42)" stroke-width="1.22">a</text><text transform="matrix(0.2262 0 0 0.2211 628.65 765.13)" stroke-width="1.34">v</text><text transform="matrix(0.2564 0 0 0.2088 640.24 765.41)" stroke-width="1.29">g</text><text transform="matrix(0.2005 0 0 0.2013 654.08 765.36)" stroke-width="1.49">.</text><text transform="matrix(0.1805 0 0 0.2042 660.88 764.20)" stroke-width="1.56">)</text>
<text transform="matrix(0.2226 0 0 0.2269 139.99 795.82)" stroke-width="1.33">O</text><text transform="matrix(0.2150 0 0 0.2191 155.79 795.42)" stroke-width="1.38">V</text><text transform="matrix(0.2282 0 0 0.2242 171.55 795.75)" stroke-width="1.33">R</text><text transform="matrix(0.1801 0 0 0.2042 193.92 794.60)" stroke-width="1.56">(</text><text transform="matrix(0.2619 0 0 0.2286 201.20 795.82)" stroke-width="1.22">a</text><text transform="matrix(0.2474 0 0 0.2274 213.58 795.82)" stroke-width="1.26">u</text><text transform="matrix(0.2564 0 0 0.2088 226.51 795.81)" stroke-width="1.29">g</text><text transform="matrix(0.2413 0 0 0.2262 239.98 795.75)" stroke-width="1.28">m</text><text transform="matrix(0.2652 0 0 0.2276 259.21 795.82)" stroke-width="1.22">e</text><text transform="matrix(0.2516 0 0 0.2262 271.55 795.75)" stroke-width="1.26">n</text><text transform="matrix(0.2748 0 0 0.2439 284.95 795.80)" stroke-width="1.16">t</text><text transform="matrix(0.2652 0 0 0.2276 292.87 795.82)" stroke-width="1.22">e</text><text transform="matrix(0.2486 0 0 0.2218 305.17 795.82)" stroke-width="1.28">d</text><text transform="matrix(0.2352 0 0 0.1860 318.04 795.69)" stroke-width="1.42">,</text><text transform="matrix(0.2576 0 0 0.2276 331.36 795.82)" stroke-width="1.24">s</text><text transform="matrix(0.2524 0 0 0.2183 341.99 795.38)" stroke-width="1.27">p</text><text transform="matrix(0.2652 0 0 0.2276 354.95 795.82)" stroke-width="1.22">e</text><text transform="matrix(0.2652 0 0 0.2276 367.11 795.82)" stroke-width="1.22">e</text><text transform="matrix(0.2465 0 0 0.2276 379.37 795.82)" stroke-width="1.27">c</text><text transform="matrix(0.2436 0 0 0.2207 391.30 795.75)" stroke-width="1.29">h</text><text transform="matrix(0.1862 0 0 0.1694 404.24 794.38)" stroke-width="1.69">-</text><text transform="matrix(0.2127 0 0 0.2239 411.27 795.75)" stroke-width="1.37">i</text><text transform="matrix(0.2516 0 0 0.2262 417.71 795.75)" stroke-width="1.26">n</text><text transform="matrix(0.2486 0 0 0.2218 430.91 795.82)" stroke-width="1.28">d</text><text transform="matrix(0.2652 0 0 0.2276 443.92 795.82)" stroke-width="1.22">e</text><text transform="matrix(0.2524 0 0 0.2183 456.28 795.38)" stroke-width="1.27">p</text><text transform="matrix(0.2652 0 0 0.2276 469.24 795.82)" stroke-width="1.22">e</text><text transform="matrix(0.2516 0 0 0.2262 481.58 795.75)" stroke-width="1.26">n</text><text transform="matrix(0.2486 0 0 0.2218 494.77 795.82)" stroke-width="1.28">d</text><text transform="matrix(0.2652 0 0 0.2276 507.79 795.82)" stroke-width="1.22">e</text><text transform="matrix(0.2516 0 0 0.2262 520.13 795.75)" stroke-width="1.26">n</text><text transform="matrix(0.2748 0 0 0.2439 533.52 795.80)" stroke-width="1.16">t</text><text transform="matrix(0.2127 0 0 0.2239 548.29 795.75)" stroke-width="1.37">i</text><text transform="matrix(0.2516 0 0 0.2262 554.73 795.75)" stroke-width="1.26">n</text><text transform="matrix(0.2486 0 0 0.2218 567.92 795.82)" stroke-width="1.28">d</text><text transform="matrix(0.2127 0 0 0.2239 581.25 795.75)" stroke-width="1.37">i</text><text transform="matrix(0.2262 0 0 0.2211 587.47 795.53)" stroke-width="1.34">v</text><text transform="matrix(0.2005 0 0 0.2013 597.31 795.76)" stroke-width="1.49">.</text><text transform="matrix(0.1805 0 0 0.2042 604.10 794.60)" stroke-width="1.56">)</text>
<text transform="matrix(0.2226 0 0 0.2269 139.99 826.22)" stroke-width="1.33">O</text><text transform="matrix(0.2150 0 0 0.2191 155.79 825.82)" stroke-width="1.38">V</text><text transform="matrix(0.2282 0 0 0.2242 171.55 826.15)" stroke-width="1.33">R</text><text transform="matrix(0.1801 0 0 0.2042 193.92 825.00)" stroke-width="1.56">(</text><text transform="matrix(0.2619 0 0 0.2286 201.20 826.22)" stroke-width="1.22">a</text><text transform="matrix(0.2474 0 0 0.2274 213.58 826.22)" stroke-width="1.26">u</text><text transform="matrix(0.2564 0 0 0.2088 226.51 826.21)" stroke-width="1.29">g</text><text transform="matrix(0.2413 0 0 0.2262 239.98 826.15)" stroke-width="1.28">m</text><text transform="matrix(0.2652 0 0 0.2276 259.21 826.22)" stroke-width="1.22">e</text><text transform="matrix(0.2516 0 0 0.2262 271.55 826.15)" stroke-width="1.26">n</text><text transform="matrix(0.2748 0 0 0.2439 284.95 826.20)" stroke-width="1.16">t</text><text transform="matrix(0.2652 0 0 0.2276 292.87 826.22)" stroke-width="1.22">e</text><text transform="matrix(0.2486 0 0 0.2218 305.17 826.22)" stroke-width="1.28">d</text><text transform="matrix(0.2352 0 0 0.1860 318.04 826.09)" stroke-width="1.42">,</text><text transform="matrix(0.2576 0 0 0.2276 331.36 826.22)" stroke-width="1.24">s</text><text transform="matrix(0.2524 0 0 0.2183 341.99 825.78)" stroke-width="1.27">p</text><text transform="matrix(0.2652 0 0 0.2276 354.95 826.22)" stroke-width="1.22">e</text><text transform="matrix(0.2652 0 0 0.2276 367.11 826.22)" stroke-width="1.22">e</text><text transform="matrix(0.2465 0 0 0.2276 379.37 826.22)" stroke-width="1.27">c</text><text transform="matrix(0.2436 0 0 0.2207 391.30 826.15)" stroke-width="1.29">h</text><text transform="matrix(0.1862 0 0 0.1694 404.24 824.78)" stroke-width="1.69">-</text><text transform="matrix(0.2486 0 0 0.2218 411.10 826.22)" stroke-width="1.28">d</text><text transform="matrix(0.2652 0 0 0.2276 424.12 826.22)" stroke-width="1.22">e</text><text transform="matrix(0.2524 0 0 0.2183 436.48 825.78)" stroke-width="1.27">p</text><text transform="matrix(0.2652 0 0 0.2276 449.43 826.22)" stroke-width="1.22">e</text><text transform="matrix(0.2516 0 0 0.2262 461.77 826.15)" stroke-width="1.26">n</text><text transform="matrix(0.2486 0 0 0.2218 474.97 826.22)" stroke-width="1.28">d</text><text transform="matrix(0.2652 0 0 0.2276 487.98 826.22)" stroke-width="1.22">e</text><text transform="matrix(0.2516 0 0 0.2262 500.32 826.15)" stroke-width="1.26">n</text><text transform="matrix(0.2748 0 0 0.2439 513.72 826.20)" stroke-width="1.16">t</text><text transform="matrix(0.2748 0 0 0.2439 528.51 826.20)" stroke-width="1.16">t</text><text transform="matrix(0.2619 0 0 0.2286 536.54 826.22)" stroke-width="1.22">a</text><text transform="matrix(0.2131 0 0 0.2207 548.86 826.15)" stroke-width="1.38">l</text><text transform="matrix(0.2433 0 0 0.2207 555.39 826.15)" stroke-width="1.29">k</text><text transform="matrix(0.2652 0 0 0.2276 567.71 826.22)" stroke-width="1.22">e</text><text transform="matrix(0.2887 0 0 0.2262 580.04 826.15)" stroke-width="1.17">r</text><text transform="matrix(0.1862 0 0 0.1694 589.91 824.78)" stroke-width="1.69">-</text><text transform="matrix(0.2619 0 0 0.2286 596.75 826.22)" stroke-width="1.22">a</text><text transform="matrix(0.2262 0 0 0.2211 608.84 825.93)" stroke-width="1.34">v</text><text transform="matrix(0.2564 0 0 0.2088 620.43 826.21)" stroke-width="1.29">g</text><text transform="matrix(0.2005 0 0 0.2013 634.28 826.16)" stroke-width="1.49">.</text><text transform="matrix(0.1805 0 0 0.2042 641.07 825.00)" stroke-width="1.56">)</text>
<text transform="matrix(0.2226 0 0 0.2269 139.99 856.62)" stroke-width="1.33">O</text><text transform="matrix(0.2150 0 0 0.2191 155.79 856.22)" stroke-width="1.38">V</text><text transform="matrix(0.2282 0 0 0.2242 171.55 856.55)" stroke-width="1.33">R</text><text transform="matrix(0.1801 0 0 0.2042 193.92 855.40)" stroke-width="1.56">(</text><text transform="matrix(0.2619 0 0 0.2286 201.20 856.62)" stroke-width="1.22">a</text><text transform="matrix(0.2474 0 0 0.2274 213.58 856.62)" stroke-width="1.26">u</text><text transform="matrix(0.2564 0 0 0.2088 226.51 856.61)" stroke-width="1.29">g</text><text transform="matrix(0.2413 0 0 0.2262 239.98 856.55)" stroke-width="1.28">m</text><text transform="matrix(0.2652 0 0 0.2276 259.21 856.62)" stroke-width="1.22">e</text><text transform="matrix(0.2516 0 0 0.2262 271.55 856.55)" stroke-width="1.26">n</text><text transform="matrix(0.2748 0 0 0.2439 284.95 856.60)" stroke-width="1.16">t</text><text transform="matrix(0.2652 0 0 0.2276 292.87 856.62)" stroke-width="1.22">e</text><text transform="matrix(0.2486 0 0 0.2218 305.17 856.62)" stroke-width="1.28">d</text><text transform="matrix(0.2352 0 0 0.1860 318.04 856.49)" stroke-width="1.42">,</text><text transform="matrix(0.2887 0 0 0.2262 331.43 856.55)" stroke-width="1.17">r</text><text transform="matrix(0.2619 0 0 0.2286 341.19 856.62)" stroke-width="1.22">a</text><text transform="matrix(0.2516 0 0 0.2262 353.50 856.55)" stroke-width="1.26">n</text><text transform="matrix(0.2486 0 0 0.2218 366.70 856.62)" stroke-width="1.28">d</text><text transform="matrix(0.2363 0 0 0.2276 379.85 856.62)" stroke-width="1.29">o</text><text transform="matrix(0.2413 0 0 0.2262 392.34 856.55)" stroke-width="1.28">m</text><text transform="matrix(0.2524 0 0 0.2183 418.30 856.18)" stroke-width="1.27">p</text><text transform="matrix(0.2436 0 0 0.2207 431.78 856.55)" stroke-width="1.29">h</text><text transform="matrix(0.2363 0 0 0.2276 444.63 856.62)" stroke-width="1.29">o</text><text transform="matrix(0.2516 0 0 0.2262 457.05 856.55)" stroke-width="1.26">n</text><text transform="matrix(0.2652 0 0 0.2276 470.10 856.62)" stroke-width="1.22">e</text><text transform="matrix(0.2127 0 0 0.2239 489.10 856.55)" stroke-width="1.37">i</text><text transform="matrix(0.2516 0 0 0.2262 495.55 856.55)" stroke-width="1.26">n</text><text transform="matrix(0.2486 0 0 0.2218 508.74 856.62)" stroke-width="1.28">d</text><text transform="matrix(0.2127 0 0 0.2239 522.07 856.55)" stroke-width="1.37">i</text><text transform="matrix(0.2262 0 0 0.2211 528.28 856.33)" stroke-width="1.34">v</text><text transform="matrix(0.2005 0 0 0.2013 538.13 856.56)" stroke-width="1.49">.</text><text transform="matrix(0.1805 0 0 0.2042 544.92 855.40)" stroke-width="1.56">)</text>
<text transform="matrix(0.2226 0 0 0.2269 139.99 887.02)" stroke-width="1.33">O</text><text transform="matrix(0.2150 0 0 0.2191 155.79 886.62)" stroke-width="1.38">V</text><text transform="matrix(0.2282 0 0 0.2242 171.55 886.95)" stroke-width="1.33">R</text><text transform="matrix(0.1801 0 0 0.2042 193.92 885.80)" stroke-width="1.56">(</text><text transform="matrix(0.2619 0 0 0.2286 201.20 887.02)" stroke-width="1.22">a</text><text transform="matrix(0.2474 0 0 0.2274 213.58 887.02)" stroke-width="1.26">u</text><text transform="matrix(0.2564 0 0 0.2088 226.51 887.01)" stroke-width="1.29">g</text><text transform="matrix(0.2413 0 0 0.2262 239.98 886.95)" stroke-width="1.28">m</text><text transform="matrix(0.2652 0 0 0.2276 259.21 887.02)" stroke-width="1.22">e</text><text transform="matrix(0.2516 0 0 0.2262 271.55 886.95)" stroke-width="1.26">n</text><text transform="matrix(0.2748 0 0 0.2439 284.95 887.00)" stroke-width="1.16">t</text><text transform="matrix(0.2652 0 0 0.2276 292.87 887.02)" stroke-width="1.22">e</text><text transform="matrix(0.2486 0 0 0.2218 305.17 887.02)" stroke-width="1.28">d</text><text transform="matrix(0.2352 0 0 0.1860 318.04 886.89)" stroke-width="1.42">,</text><text transform="matrix(0.2576 0 0 0.2276 331.36 887.02)" stroke-width="1.24">s</text><text transform="matrix(0.2524 0 0 0.2183 341.99 886.58)" stroke-width="1.27">p</text><text transform="matrix(0.2652 0 0 0.2276 354.95 887.02)" stroke-width="1.22">e</text><text transform="matrix(0.2652 0 0 0.2276 367.11 887.02)" stroke-width="1.22">e</text><text transform="matrix(0.2465 0 0 0.2276 379.37 887.02)" stroke-width="1.27">c</text><text transform="matrix(0.2436 0 0 0.2207 391.30 886.95)" stroke-width="1.29">h</text><text transform="matrix(0.1862 0 0 0.1694 404.24 885.58)" stroke-width="1.69">-</text><text transform="matrix(0.2486 0 0 0.2218 411.10 887.02)" stroke-width="1.28">d</text><text transform="matrix(0.2652 0 0 0.2276 424.12 887.02)" stroke-width="1.22">e</text><text transform="matrix(0.2524 0 0 0.2183 436.48 886.58)" stroke-width="1.27">p</text><text transform="matrix(0.2652 0 0 0.2276 449.43 887.02)" stroke-width="1.22">e</text><text transform="matrix(0.2516 0 0 0.2262 461.77 886.95)" stroke-width="1.26">n</text><text transform="matrix(0.2486 0 0 0.2218 474.97 887.02)" stroke-width="1.28">d</text><text transform="matrix(0.2652 0 0 0.2276 487.98 887.02)" stroke-width="1.22">e</text><text transform="matrix(0.2516 0 0 0.2262 500.32 886.95)" stroke-width="1.26">n</text><text transform="matrix(0.2748 0 0 0.2439 513.72 887.00)" stroke-width="1.16">t</text><text transform="matrix(0.2127 0 0 0.2239 528.48 886.95)" stroke-width="1.37">i</text><text transform="matrix(0.2516 0 0 0.2262 534.92 886.95)" stroke-width="1.26">n</text><text transform="matrix(0.2486 0 0 0.2218 548.12 887.02)" stroke-width="1.28">d</text><text transform="matrix(0.2127 0 0 0.2239 561.44 886.95)" stroke-width="1.37">i</text><text transform="matrix(0.2262 0 0 0.2211 567.66 886.73)" stroke-width="1.34">v</text><text transform="matrix(0.2005 0 0 0.2013 577.50 886.96)" stroke-width="1.49">.</text><text transform="matrix(0.1805 0 0 0.2042 584.29 885.80)" stroke-width="1.56">)</text>
</g>
</svg>
</body></html>
